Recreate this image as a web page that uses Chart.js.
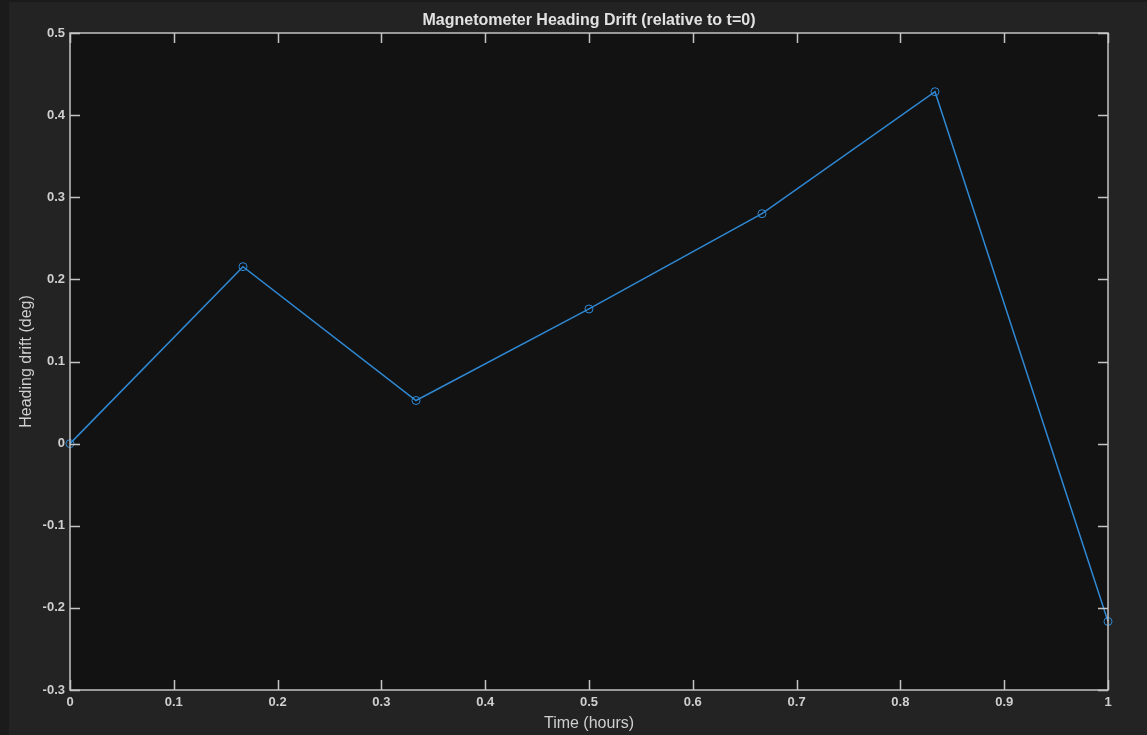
<!DOCTYPE html>
<html>
<head>
<meta charset="utf-8">
<script src="https://cdn.jsdelivr.net/npm/chart.js@4.4.1/dist/chart.umd.min.js"></script>
<style>
  html, body { margin: 0; padding: 0; background: #1b1b1b; }
  #wrap { width: 1147px; height: 735px; }
</style>
</head>
<body>
<div id="wrap"><canvas id="driftChart" width="1147" height="735"></canvas></div>
<script>
// Sample times (hours) and heading drift (deg)
const timeHours = [0, 1 / 6, 2 / 6, 3 / 6, 4 / 6, 5 / 6, 1];
const driftDeg = [0, 0.2155, 0.0525, 0.164, 0.280, 0.4285, -0.2165];

const xTicks = [0, 0.1, 0.2, 0.3, 0.4, 0.5, 0.6, 0.7, 0.8, 0.9, 1];
const xTickLabels = ['0', '0.1', '0.2', '0.3', '0.4', '0.5', '0.6', '0.7', '0.8', '0.9', '1'];
const yTicks = [-0.3, -0.2, -0.1, 0, 0.1, 0.2, 0.3, 0.4, 0.5];
const yTickLabels = ['-0.3', '-0.2', '-0.1', '0', '0.1', '0.2', '0.3', '0.4', '0.5'];

const titleText = 'Magnetometer Heading Drift (relative to t=0)';
const lineColor = '#2f88d3';
const frameColor = '#c4c4c4';
const textColor = '#cfcfcf';
const fontFamily = '"Liberation Sans", Arial, sans-serif';

// Background, plot area fill, frame with inward ticks and title
const matlabAxes = {
  id: 'matlabAxes',
  beforeDraw(c) {
    const ctx = c.ctx;
    const a = c.chartArea;
    ctx.save();
    ctx.fillStyle = '#1b1b1b';
    ctx.fillRect(0, 0, c.width, c.height);
    ctx.fillStyle = '#232323';
    ctx.fillRect(9, 2, c.width - 9, c.height - 2);
    ctx.fillStyle = '#121212';
    ctx.fillRect(a.left, a.top, a.right - a.left, a.bottom - a.top);
    ctx.restore();
  },
  afterDatasetsDraw(c) {
    const ctx = c.ctx;
    const a = c.chartArea;
    const xs = c.scales.x, ys = c.scales.y;
    const len = 10;
    ctx.save();
    ctx.strokeStyle = frameColor;
    ctx.lineWidth = 1.5;
    ctx.beginPath();
    xs.ticks.forEach(t => {
      const px = Math.round(xs.getPixelForValue(t.value)) + 0.5;
      ctx.moveTo(px, a.bottom); ctx.lineTo(px, a.bottom - len);
      ctx.moveTo(px, a.top); ctx.lineTo(px, a.top + len);
    });
    ys.ticks.forEach(t => {
      const py = Math.round(ys.getPixelForValue(t.value)) + 0.5;
      ctx.moveTo(a.left, py); ctx.lineTo(a.left + len, py);
      ctx.moveTo(a.right, py); ctx.lineTo(a.right - len, py);
    });
    ctx.stroke();
    ctx.strokeRect(a.left, a.top, a.right - a.left, a.bottom - a.top);

    ctx.fillStyle = '#e2e2e2';
    ctx.font = 'bold 16px ' + fontFamily;
    ctx.textAlign = 'center';
    ctx.textBaseline = 'middle';
    ctx.fillText(titleText, (a.left + a.right) / 2, 21);
    ctx.restore();
  }
};

const ctx = document.getElementById('driftChart').getContext('2d');
const chart = new Chart(ctx, {
  type: 'line',
  data: {
    datasets: [{
      label: 'Heading drift',
      data: timeHours.map((t, i) => ({ x: t, y: driftDeg[i] })),
      borderColor: lineColor,
      backgroundColor: 'transparent',
      borderWidth: 1.5,
      pointRadius: 4,
      pointHoverRadius: 4,
      pointBorderWidth: 1,
      pointBorderColor: lineColor,
      pointBackgroundColor: 'transparent',
      tension: 0,
      clip: false
    }]
  },
  options: {
    responsive: false,
    animation: false,
    events: [],
    layout: { padding: { left: 0, top: 33, right: 39, bottom: 0 } },
    plugins: {
      legend: { display: false },
      tooltip: { enabled: false },
      title: { display: false }
    },
    scales: {
      x: {
        type: 'linear',
        min: 0,
        max: 1,
        afterBuildTicks: s => { s.ticks = xTicks.map(v => ({ value: v })); },
        afterFit: s => { s.height = 45; },
        grid: { display: false, drawTicks: false },
        border: { display: false },
        ticks: {
          color: textColor,
          padding: 5,
          maxRotation: 0,
          autoSkip: false,
          callback: (v, i) => xTickLabels[i],
          font: { family: fontFamily, size: 13, weight: 'bold' }
        },
        title: {
          display: true,
          text: 'Time (hours)',
          color: textColor,
          padding: { top: 2, bottom: 2 },
          font: { family: fontFamily, size: 16 }
        }
      },
      y: {
        type: 'linear',
        min: -0.3,
        max: 0.5,
        afterBuildTicks: s => { s.ticks = yTicks.map(v => ({ value: v })); },
        afterFit: s => { s.width = 70; },
        grid: { display: false, drawTicks: false },
        border: { display: false },
        ticks: {
          color: textColor,
          padding: 5,
          autoSkip: false,
          callback: (v, i) => yTickLabels[i],
          font: { family: fontFamily, size: 13, weight: 'bold' }
        },
        title: {
          display: true,
          text: 'Heading drift (deg)',
          color: textColor,
          padding: { top: 17, bottom: 17 },
          font: { family: fontFamily, size: 16 }
        }
      }
    }
  },
  plugins: [matlabAxes]
});
</script>
</body>
</html>
